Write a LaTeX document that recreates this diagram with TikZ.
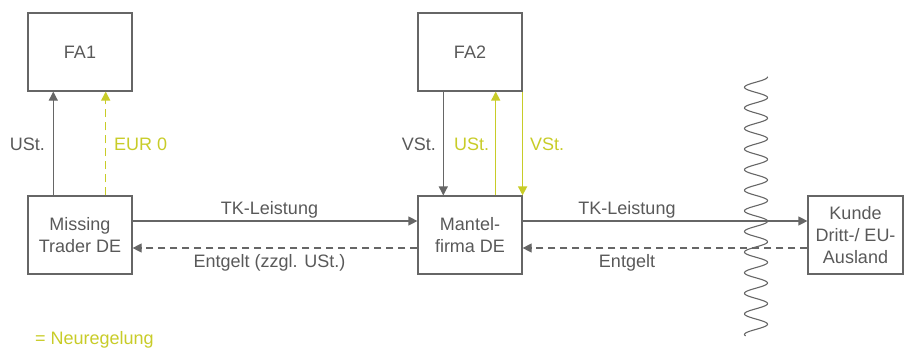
\documentclass[tikz,border=0pt]{standalone}
\usepackage{fontspec}
\setmainfont{Liberation Sans}
\usetikzlibrary{arrows.meta}
\definecolor{txtgray}{RGB}{89,89,89}
\definecolor{linegray}{RGB}{102,102,102}
\definecolor{neu}{RGB}{200,204,40}
\tikzset{
  box/.style={draw=linegray, line width=1.2pt, rectangle, inner sep=0pt,
    minimum width=104pt, minimum height=78pt, align=center, text=txtgray,
    font=\fontsize{18}{22}\selectfont},
  lbl/.style={inner sep=0pt, font=\fontsize{18}{22}\selectfont},
  flow/.style={draw=linegray, line width=1.2pt, -{Triangle[length=9pt,width=9pt]}},
  newflow/.style={draw=neu, line width=1.5pt, -{Triangle[length=9pt,width=9pt]}},
  dashflow/.style={flow, dash pattern=on 7pt off 5pt},
}
\begin{document}
\begin{tikzpicture}[x=1pt, y=-1pt]
\useasboundingbox (0,0) rectangle (904,348);

% boxes
\node[box] (fa1) at (80,52) {FA1};
\node[box] (mt)  at (80,235) {Missing\\Trader DE};
\node[box] (fa2) at (470,52) {FA2};
\node[box] (mf)  at (470,235) {Mantel-\\firma DE};
\node[box, minimum width=95pt] (ku) at (855.5,235) {Kunde\\Dritt-/ EU-\\Ausland};

% border between domestic and foreign territory (t counts periods)
\draw[linegray, line width=1.1pt, line cap=round]
  plot[variable=\t, domain=0:12.57, samples=500] ({756+11.5*cos(360*\t)}, {77+20.6*\t});

% tax flows to the tax offices
\draw[flow] ([xshift=-26.7pt]mt.north) -- ([xshift=-26.7pt]fa1.south);
\draw[newflow, dash pattern=on 8pt off 5pt] ([xshift=25.7pt]mt.north) -- ([xshift=25.7pt]fa1.south);
\draw[flow] ([xshift=-26.7pt]fa2.south) -- ([xshift=-26.7pt]mf.north);
\draw[newflow] ([xshift=25.7pt]mf.north) -- ([xshift=25.7pt]fa2.south);
\draw[newflow] (fa2.south east) -- (mf.north east);

\node[lbl, text=txtgray, anchor=east] (l1) at (45,144) {USt.};
\node[lbl, text=neu, anchor=west] (l2) at (114,144) {EUR 0};
\node[lbl, text=txtgray, anchor=east] (l3) at (436,144) {VSt.};
\node[lbl, text=neu, anchor=west] (l4) at (454,144) {USt.};
\node[lbl, text=neu, anchor=west] (l5) at (530,144) {VSt.};

% service and payment flows
\draw[flow] ([yshift=14pt]mt.east) -- ([yshift=14pt]mf.west);
\draw[dashflow] ([yshift=-13pt]mf.west) -- ([yshift=-13pt]mt.east);
\draw[flow] ([yshift=14pt]mf.east) -- ([yshift=14pt]ku.west);
\draw[dashflow] ([yshift=-13pt]ku.west) -- ([yshift=-13pt]mf.east);

\node[lbl, text=txtgray] (t1) at (269.5,210) {TK-Leistung};
\node[lbl, text=txtgray] (e1) at (269.5,263) {Entgelt (zzgl. USt.)};
\node[lbl, text=txtgray] (t2) at (627,210) {TK-Leistung};
\node[lbl, text=txtgray] (e2) at (627,263) {Entgelt};

% legend
\node[lbl, text=neu, anchor=west] (leg) at (35,340) {= Neuregelung};
\end{tikzpicture}
\end{document}
